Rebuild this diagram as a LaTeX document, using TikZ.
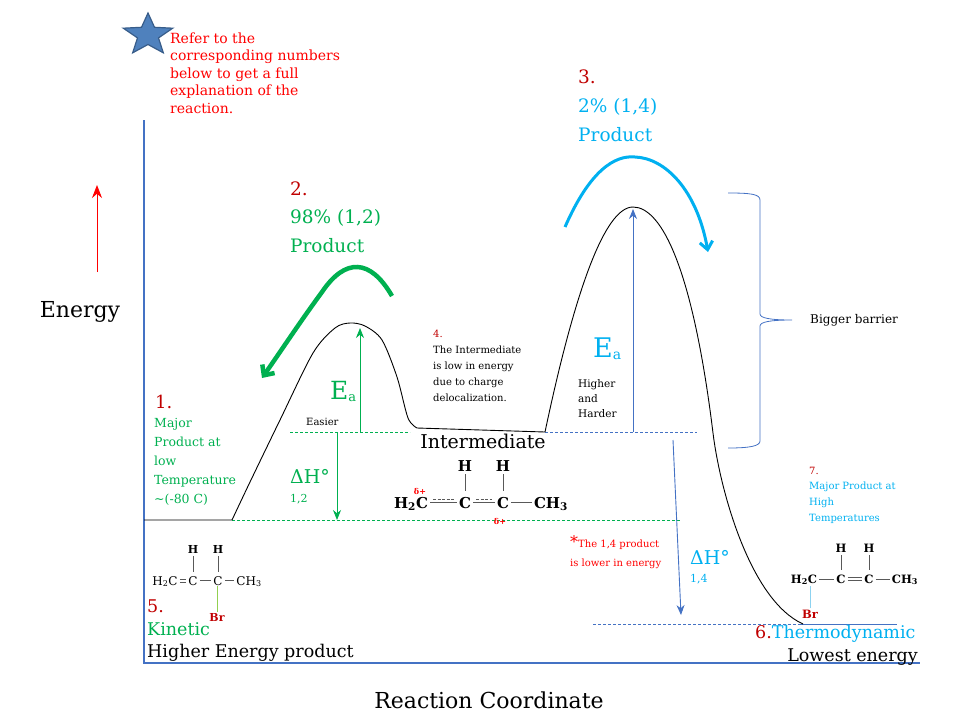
\documentclass[tikz,border=0pt]{standalone}
\usepackage{fontspec}
\setmainfont{DejaVu Serif}
\usetikzlibrary{arrows.meta}
\definecolor{dred}{RGB}{192,0,0}
\definecolor{grn}{RGB}{0,176,80}
\definecolor{cyn}{RGB}{0,176,240}
\definecolor{axb}{RGB}{68,114,196}
\definecolor{rd}{RGB}{255,0,0}
\definecolor{starfill}{RGB}{79,129,189}
\definecolor{starline}{RGB}{56,93,138}
\definecolor{brg}{RGB}{146,208,80}
\definecolor{brc}{RGB}{140,210,240}
\newcommand{\fs}[2]{\fontsize{#1}{#2}\selectfont}
\begin{document}
\begin{tikzpicture}[x=1pt,y=-1pt,
  lbl/.style={inner sep=0pt, anchor=base west},
  blk/.style={inner sep=0pt, anchor=north west, align=left},
  lvl/.style={dash pattern=on 3pt off 2pt, line width=0.8pt},
  bond/.style={black!65, line width=0.8pt, shorten <=1pt, shorten >=1pt},
  iatom/.style={inner sep=1pt, anchor=base, font=\fs{15}{15}\bfseries},
  katom/.style={inner sep=1pt, anchor=base, font=\fs{12}{12}},
  tatom/.style={inner sep=1pt, anchor=base, font=\fs{11.5}{11.5}\bfseries},
  ptr/.style={-{Stealth[length=10pt,width=8pt]}, line width=0.9pt},
  bigarrow/.style={-{Straight Barb[length=8pt,width=15pt]}},
]
\useasboundingbox (0,0) rectangle (960,720);

% star
\filldraw[fill=starfill, draw=starline, line width=1.2pt, line join=miter]
  (148,13) -- (141.5,27.3) -- (123.3,28.2) -- (137.5,37.9) -- (132.7,52.8) -- (148,44.5)
  -- (163.3,52.8) -- (158.5,37.9) -- (172.7,28.2) -- (154.5,27.3) -- cycle;
\node (note) [blk, text=rd, font=\fs{14}{17.5}] at (170,32.4)
  {Refer to the\\corresponding numbers\\below to get a full\\explanation of the\\reaction.};

% axes
\coordinate (ytop) at (144,120);
\coordinate (orig) at (144,663);
\coordinate (xend) at (920,663);
\draw[axb, line width=2pt] (ytop) -- (orig) -- (xend);

% energy arrow and axis labels
\coordinate (ea0) at (97,272);
\coordinate (ea1) at (97,185);
\draw[rd, line width=1pt, -{Stealth[length=13pt,width=10pt]}] (ea0) -- (ea1);
\node (energy) [inner sep=0pt, anchor=base, font=\fs{22}{22}] at (80,317) {Energy};
\node (rc) [inner sep=0pt, anchor=base, font=\fs{22}{22}] at (489,708) {Reaction Coordinate};

% level lines
\draw[grn, lvl] (232,520) -- (680,520);
\draw[grn, lvl] (290,432) -- (410,432);
\draw[axb, lvl] (545,432) -- (697,432);
\draw[axb, lvl] (593,624) -- (800,624);
\draw[axb, line width=0.8pt] (800,624) -- (897,624);

% energy profile
\draw[line width=0.9pt, line join=round] (144,520) -- (232,520)
  -- plot[smooth, tension=0.5] coordinates {(232,520) (250,482) (280,420) (313,353) (335,328) (350,323) (365,326) (382,340) (397,377) (408,418) (417,428)}
  -- (545,432)
  .. controls (575,290) and (605,207) .. (633,207)
  .. controls (662,207) and (693,270) .. (713,433)
  .. controls (720,490) and (750,600) .. (803,624);

% Ea / dH arrows
\coordinate (eag0) at (360,432); \coordinate (eag1) at (360,328);
\draw[grn, ptr] (eag0) -- (eag1);
\coordinate (dhg0) at (337,433); \coordinate (dhg1) at (337,520);
\draw[grn, ptr] (dhg0) -- (dhg1);
\coordinate (eac0) at (633,432); \coordinate (eac1) at (633,209);
\draw[axb, ptr] (eac0) -- (eac1);
\coordinate (dhc0) at (673,440); \coordinate (dhc1) at (681,615);
\draw[axb, ptr] (dhc0) -- (dhc1);

% big curved arrows
\coordinate (ga0) at (392,296); \coordinate (ga1) at (262,378);
\draw[grn, line width=4.5pt, bigarrow] (ga0) .. controls (370,258) and (345,258) .. (322,292)
  .. controls (300,322) and (285,345) .. (ga1);
\coordinate (ca0) at (565,227); \coordinate (ca1) at (708,252);
\draw[cyn, line width=3pt, -{Straight Barb[length=8pt,width=13pt]}] (ca0) .. controls (590,170) and (615,155) .. (635,157)
  .. controls (665,158) and (697,190) .. (ca1);

% brace
\draw[axb, line width=0.8pt] (728,193) .. controls (750,193) and (760,194) .. (760,200) -- (760,314)
  .. controls (760,318) and (770,320) .. (792,320) .. controls (770,320) and (760,322) .. (760,326)
  -- (760,441) .. controls (760,446) and (750,448) .. (728,448);
\node (bb) [lbl, font=\fs{12}{12}] at (810,323) {Bigger barrier};

% numbered labels
\node (n1) [lbl, text=dred, font=\fs{18}{18}] at (155,408) {1.};
\node (n1t) [blk, text=grn, font=\fs{12.5}{19}] at (154,418.5)
  {Major\\Product at\\low\\Temperature\\\textasciitilde(-80 C)};
\node (n2) [blk, text=grn, font=\fs{18.5}{28.5}] at (290,181.5) {\textcolor{dred}{2.}\\98\% (1,2)\\Product};
\node (n3) [blk, text=cyn, font=\fs{18.5}{29}] at (578,69.5) {\textcolor{dred}{3.}\\2\% (1,4)\\Product};
\node (n4) [blk, font=\fs{10}{16}] at (433,329.7)
  {\textcolor{dred}{4.}\\The Intermediate\\is low in energy\\due to charge\\delocalization.};
\node (n7) [blk, text=cyn, font=\fs{10}{15.7}] at (809,466.7)
  {\textcolor{dred}{7.}\\Major Product at\\High\\Temperatures};
\node (hh) [blk, font=\fs{10.5}{15}] at (578,379) {Higher\\and\\Harder};
\node (star14) [blk, text=rd, font=\fs{10}{19}] at (570,535)
  {{\fs{16}{16}*}The 1,4 product\\is lower in energy};
\node (n5) [blk, font=\fs{17.5}{22.5}] at (147,600)
  {\textcolor{dred}{5.}\\\textcolor{grn}{Kinetic}\\Higher Energy product};
\node (n6) [lbl, text=cyn, font=\fs{17.5}{17.5}] at (755,638) {\textcolor{dred}{6.}Thermodynamic};
\node (low) [inner sep=0pt, anchor=base east, font=\fs{17.5}{17.5}] at (918,661) {Lowest energy};
\node (inter) [inner sep=0pt, anchor=base, font=\fs{19}{19}] at (483,448) {Intermediate};
\node (easier) [lbl, font=\fs{10}{10}] at (306,425) {Easier};
\node (eag) [lbl, text=grn, font=\fs{25}{25}] at (330,399) {E\raisebox{-2pt}{\fs{13}{13}a}};
\node (eac) [lbl, text=cyn, font=\fs{27}{27}] at (593,357) {E\raisebox{-2pt}{\fs{14}{14}a}};
\node (dhg) [lbl, text=grn, font=\fs{19}{19}] at (290,483) {ΔH°};
\node (dhg2) [lbl, text=grn, font=\fs{11}{11}] at (290,502) {1,2};
\node (dhc) [lbl, text=cyn, font=\fs{19}{19}] at (690,564) {ΔH°};
\node (dhc2) [lbl, text=cyn, font=\fs{11}{11}] at (690,582) {1,4};

% intermediate structure
\node (ih2c) [iatom] at (411,508) {H\textsubscript{2}C};
\node (ic1) [iatom] at (465,508) {C};
\node (ic2) [iatom] at (503,508) {C};
\node (ich3) [iatom] at (551,508) {CH\textsubscript{3}};
\node (ih1) [iatom] at (465,471) {H};
\node (ih2) [iatom] at (503,471) {H};
\draw[bond] ([yshift=-1pt]ih1.south) -- ([yshift=4pt]ic1.north);
\draw[bond] ([yshift=-1pt]ih2.south) -- ([yshift=4pt]ic2.north);
\draw[bond] ([yshift=5.4pt]ih2c.base east) -- ([yshift=5.4pt]ic1.base west);
\draw[bond, dash pattern=on 3pt off 1.5pt] ([xshift=3pt,yshift=9pt]ih2c.base east) -- ([xshift=-3pt,yshift=9pt]ic1.base west);
\draw[bond] ([yshift=5.4pt]ic1.base east) -- ([yshift=5.4pt]ic2.base west);
\draw[bond, dash pattern=on 3pt off 1.5pt] ([xshift=3pt,yshift=9pt]ic1.base east) -- ([xshift=-3pt,yshift=9pt]ic2.base west);
\draw[bond] ([yshift=5.4pt]ic2.base east) -- ([yshift=5.4pt]ich3.base west);
\node (d1) [inner sep=0pt, text=rd, font=\fs{8}{8}\bfseries] at (420,491) {δ+};
\node (d2) [inner sep=0pt, text=rd, font=\fs{8}{8}\bfseries] at (500,521) {δ+};

% kinetic product structure
\node (kh2c) [katom] at (165,585) {H\textsubscript{2}C};
\node (kc1) [katom] at (193,585) {C};
\node (kc2) [katom] at (218,585) {C};
\node (kch3) [katom] at (249,585) {CH\textsubscript{3}};
\node (kh1) [katom, font=\fs{11}{11}\bfseries] at (193,553) {H};
\node (kh2) [katom, font=\fs{11}{11}\bfseries] at (218,553) {H};
\node (kbr) [katom, text=dred, font=\fs{11}{11}\bfseries] at (217,621) {Br};
\draw[bond] ([yshift=-1pt]kh1.south) -- ([yshift=2pt]kc1.north);
\draw[bond] ([yshift=-1pt]kh2.south) -- ([yshift=2pt]kc2.north);
\draw[bond] ([yshift=2.6pt]kh2c.base east) -- ([yshift=2.6pt]kc1.base west);
\draw[bond] ([yshift=5.6pt]kh2c.base east) -- ([yshift=5.6pt]kc1.base west);
\draw[bond] ([yshift=4.2pt]kc1.base east) -- ([yshift=4.2pt]kc2.base west);
\draw[bond] ([yshift=4.2pt]kc2.base east) -- ([yshift=4.2pt]kch3.base west);
\draw[brg, line width=0.9pt] (kbr.north) -- (kbr.north |- kc2.south);

% thermodynamic product structure
\node (th2c) [tatom] at (804,583) {H\textsubscript{2}C};
\node (tc1) [tatom] at (841,583) {C};
\node (tc2) [tatom] at (869,583) {C};
\node (tch3) [tatom] at (905,583) {CH\textsubscript{3}};
\node (th1) [tatom] at (841,552) {H};
\node (th2) [tatom] at (869,552) {H};
\node (tbr) [tatom, text=dred] at (810,618) {Br};
\draw[bond] ([yshift=-1pt]th1.south) -- ([yshift=2pt]tc1.north);
\draw[bond] ([yshift=-1pt]th2.south) -- ([yshift=2pt]tc2.north);
\draw[bond] ([yshift=4.1pt]th2c.base east) -- ([yshift=4.1pt]tc1.base west);
\draw[bond] ([yshift=2.6pt]tc1.base east) -- ([yshift=2.6pt]tc2.base west);
\draw[bond] ([yshift=5.6pt]tc1.base east) -- ([yshift=5.6pt]tc2.base west);
\draw[bond] ([yshift=4.1pt]tc2.base east) -- ([yshift=4.1pt]tch3.base west);
\draw[brc, line width=0.9pt] (tbr.north) -- (tbr.north |- th2c.south);
\end{tikzpicture}
\end{document}
